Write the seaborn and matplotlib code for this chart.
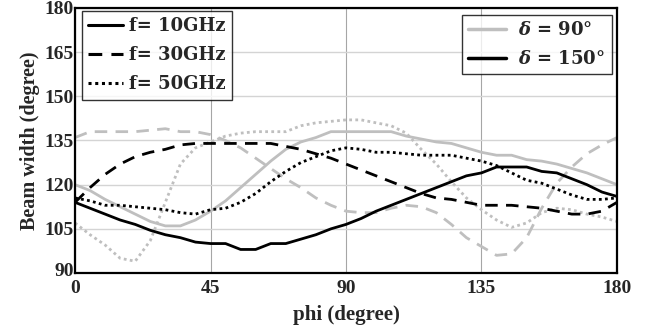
import numpy as np
import pandas as pd
import matplotlib
matplotlib.use("Agg")
import matplotlib.pyplot as plt
import matplotlib.transforms as mtransforms
from matplotlib.lines import Line2D
import seaborn as sns

phi = [0, 5, 10, 15, 20, 25, 30, 35, 40, 45, 50, 55, 60, 65, 70, 75, 80, 85, 90,
       95, 100, 105, 110, 115, 120, 125, 130, 135, 140, 145, 150, 155, 160, 165,
       170, 175, 180]

# delta = 150 deg (black)
d150_10 = [114, 112, 110, 108, 106.5, 104.5, 103, 102, 100.5, 100, 100, 98, 98, 100,
           100, 101.5, 103, 105, 106.5, 108.5, 111, 113, 115, 117, 119, 121, 123,
           124, 126, 126, 126, 124.5, 124, 122, 120, 117.5, 116]
d150_30 = [114, 119, 123.5, 127, 129.5, 131, 132, 133.5, 134, 134, 134, 134, 134, 134,
           133, 132, 130.5, 129, 127, 125, 123, 121, 119, 117, 115.5, 115, 114, 113,
           113, 113, 112.5, 112, 111, 110, 110, 111, 114]
d150_50 = [115.5, 114.5, 113, 113, 112.5, 112, 111.5, 110.5, 110, 111.5, 112, 114, 117,
           121, 124.5, 127.5, 129.5, 131.5, 132.5, 132, 131, 131, 130.5, 130, 130, 130,
           129, 128, 126.5, 124, 121.5, 120.5, 118.5, 116.5, 115, 115, 115.5]
# delta = 90 deg (gray)
d90_10 = [120, 118, 115, 112.5, 110, 107.5, 106, 106, 108, 111, 114.5, 119, 123.5, 128,
          132, 134.5, 136, 138, 138, 138, 138, 138, 136.5, 135.5, 134.5, 134, 132.5,
          131, 130, 130, 128.5, 128, 127, 125.5, 124, 122, 120]
d90_30 = [136, 138, 138, 138, 138, 138.5, 139, 138, 138, 137, 135, 132.5, 129, 125.5,
          122, 119, 115.5, 113, 111, 110.5, 110.5, 112, 113, 112.5, 110.5, 106.5, 102,
          99, 96, 96.5, 102, 112, 120.5, 126, 130.5, 133.5, 136]
d90_50 = [107, 103, 99.5, 95, 94, 101, 114, 127, 132.5, 134.5, 136.5, 137.5, 138, 138,
          138, 140, 141, 141.5, 142, 142, 141, 140, 137.5, 132, 127, 121, 115.5, 111.5,
          108, 105.5, 107, 110.5, 112, 111.5, 110, 109, 107.5]

freq_labels = ["f= 10GHz", "f= 30GHz", "f= 50GHz"]
delta_labels = [r"$\mathbfit{\delta}$ = 90°", r"$\mathbfit{\delta}$ = 150°"]
xticks = [0, 45, 90, 135, 180]
yticks = [90, 105, 120, 135, 150, 165, 180]

rows = []
for dl, series in zip(delta_labels, [[d90_10, d90_30, d90_50], [d150_10, d150_30, d150_50]]):
    for fl, vals in zip(freq_labels, series):
        for p, v in zip(phi, vals):
            rows.append({"phi": p, "bw": v, "delta": dl, "freq": fl})
df = pd.DataFrame(rows)

sns.set_style("white")
plt.rcParams["font.family"] = ["Liberation Serif", "DejaVu Serif"]
plt.rcParams["font.weight"] = "bold"
plt.rcParams["mathtext.fontset"] = "dejavuserif"

fig = plt.figure(figsize=(6.54, 3.30), dpi=100)
ax = fig.add_axes([0.1147, 0.1727, 0.8287, 0.8031])

gray = "#bfbfbf"
palette = {delta_labels[0]: gray, delta_labels[1]: "black"}
dashes = {freq_labels[0]: "", freq_labels[1]: (4.5, 3), freq_labels[2]: (1, 1.2)}

sns.lineplot(data=df, x="phi", y="bw", hue="delta", style="freq", palette=palette,
             dashes=dashes, linewidth=2.0, ax=ax, legend=False, sort=False,
             hue_order=delta_labels, style_order=freq_labels)

ax.set_xlim(0, 180)
ax.set_ylim(90, 180)
ax.set_xticks(xticks)
ax.set_yticks(yticks)
ax.set_xticklabels([str(t) for t in xticks], fontsize=14, fontweight="bold")
ax.set_yticklabels([str(t) for t in yticks], fontsize=14, fontweight="bold")
ax.tick_params(axis="y", length=0, pad=1)
ax.tick_params(axis="x", length=0, pad=5)
lab90 = ax.get_yticklabels()[0]
lab90.set_transform(lab90.get_transform() +
                    mtransforms.ScaledTranslation(0, 3.5 / 100, fig.dpi_scale_trans))
ax.xaxis.grid(True, color="#a6a6a6", linewidth=0.8)
ax.yaxis.grid(True, color="#d4d4d4", linewidth=1.0)
ax.set_axisbelow(True)
for s in ax.spines.values():
    s.set_color("black")
    s.set_linewidth(1.6)

ax.set_xlabel("phi (degree)", fontsize=15, fontweight="bold", labelpad=6)
ax.set_ylabel("Beam width (degree)", fontsize=14.5, fontweight="bold", labelpad=3)

legfont = {"family": "DejaVu Serif", "weight": "bold", "size": 13}
h1 = [Line2D([], [], color="black", lw=2.2, dashes=dashes[f]) if dashes[f] else
      Line2D([], [], color="black", lw=2.2) for f in freq_labels]
leg1 = ax.legend(h1, freq_labels, loc="upper left", bbox_to_anchor=(0.013, 0.99),
                 frameon=True, fancybox=False, edgecolor="black", prop=legfont,
                 handlelength=1.9, borderpad=0.35, labelspacing=0.62,
                 handletextpad=0.35, borderaxespad=0)
leg1.get_frame().set_linewidth(1.0)
ax.add_artist(leg1)
h2 = [Line2D([], [], color=gray, lw=2.5), Line2D([], [], color="black", lw=2.5)]
leg2 = ax.legend(h2, delta_labels, loc="upper right", bbox_to_anchor=(0.99, 0.975),
                 frameon=True, fancybox=False, edgecolor="black", prop=legfont,
                 handlelength=2.1, borderpad=0.35, labelspacing=0.62,
                 handletextpad=0.7, borderaxespad=0)
leg2.get_frame().set_linewidth(1.0)

fig.savefig("out.png", dpi=100)
